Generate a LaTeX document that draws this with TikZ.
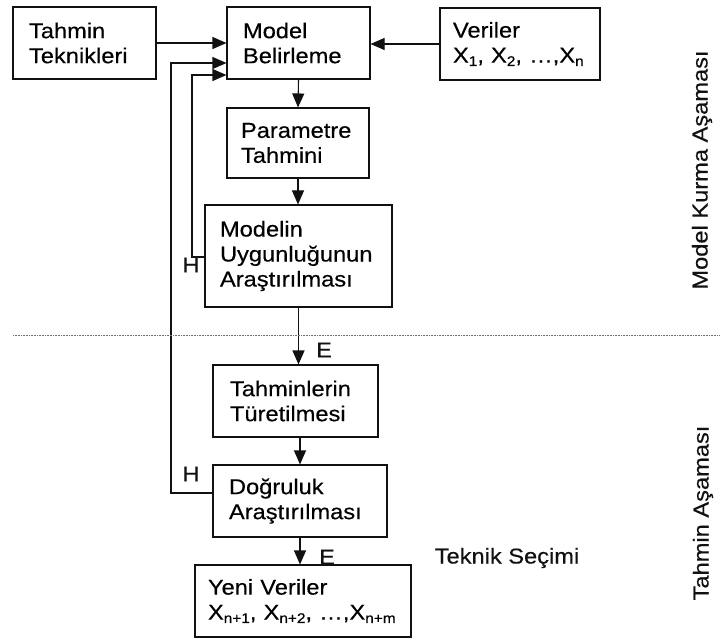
\documentclass[tikz,border=0pt]{standalone}
\usepackage{fontspec}
\setmainfont{Liberation Sans}[FakeStretch=1.1,FakeBold=0.4]
\usepackage{tikz}
\usetikzlibrary{arrows.meta}
\definecolor{ink}{HTML}{111111}
\definecolor{line}{HTML}{6E6E6E}
\newcommand\kfont{\fontsize{21.5}{25}\selectfont}
\newcommand\alt[1]{\raisebox{-.3ex}{\fontsize{14}{14}\selectfont #1}}

\begin{document}
\begin{tikzpicture}[x=1pt,y=-1pt,
  kutu/.style={draw=ink,line width=1.1pt,align=left,inner xsep=16pt,inner ysep=0pt,font=\kfont},
  ok/.style={draw=ink,line width=1.1pt,-{Triangle[length=14pt,width=12pt]}},
  yazi/.style={font=\kfont,text=ink,inner sep=0pt}]
\useasboundingbox (0,0) rectangle (720,639);
\node[kutu,text width=111pt,minimum height=72pt] (tek) at (84.5,43) {Tahmin\\Teknikleri};
\node[kutu,text width=111pt,minimum height=72pt] (model) at (298.5,43) {Model\\Belirleme};
\node[kutu,inner xsep=13pt,text width=134pt,minimum height=72pt] (veri) at (520,44) {Veriler\\\mbox{X\alt{1}, X\alt{2}, …,X\alt{n}}};
\node[kutu,inner xsep=14pt,text width=114pt,minimum height=70pt] (param) at (298,143) {Parametre\\Tahmini};
\node[kutu,inner xsep=15pt,text width=157pt,minimum height=102pt] (uygun) at (298.5,256) {Modelin\\Uygunluğunun\\Araştırılması};
\node[kutu,inner xsep=17pt,text width=131pt,minimum height=72pt] (turet) at (295.5,401) {Tahminlerin\\Türetilmesi};
\node[kutu,text width=142pt,minimum height=72pt] (dogru) at (300,501) {Doğruluk\\Araştırılması};
\node[kutu,inner xsep=13pt,text width=190pt,minimum height=72pt] (yeni) at (303,601) {Yeni Veriler\\\mbox{X\alt{n+1}, X\alt{n+2}, …,X\alt{n+m}}};
\coordinate (h1) at (192,257);
\coordinate (h2) at (171,493);
\coordinate (s0) at (13,335);
\coordinate (s1) at (720,335);
\draw[ok] (tek.east) -- (model.west);
\draw[ok] (veri.west) -- (veri.west -| model.east);
\draw[ok] (model.south) -- (param.north);
\draw[ok] (param.south) -- (param.south |- uygun.north);
\draw[ok] (uygun.south) -- (uygun.south |- turet.north);
\draw[ok] (dogru.north |- turet.south) -- (dogru.north);
\draw[ok] (dogru.south) -- (dogru.south |- yeni.north);
\draw[ok] (uygun.west |- h1) -- (h1) |- ([yshift=-32pt]model.west);
\draw[ok] ([yshift=8pt]dogru.west) -- (h2) |- ([yshift=-20pt]model.west);
\draw[line,line width=.7pt,dash pattern=on .8pt off .8pt] (s0) -- (s1);
\node[yazi] (hu) at (191,265) {H};
\node[yazi] (hd) at (191,474) {H};
\node[yazi] (eu) at (324,350) {E};
\node[yazi] (ed) at (327,557) {E};
\node[yazi] (secim) at (507,558) {Teknik Seçimi};
\node[yazi,rotate=90] (kurma) at (702,170) {Model Kurma Aşaması};
\node[yazi,rotate=90] (tahmin) at (703,513) {Tahmin Aşaması};
\end{tikzpicture}
\end{document}
